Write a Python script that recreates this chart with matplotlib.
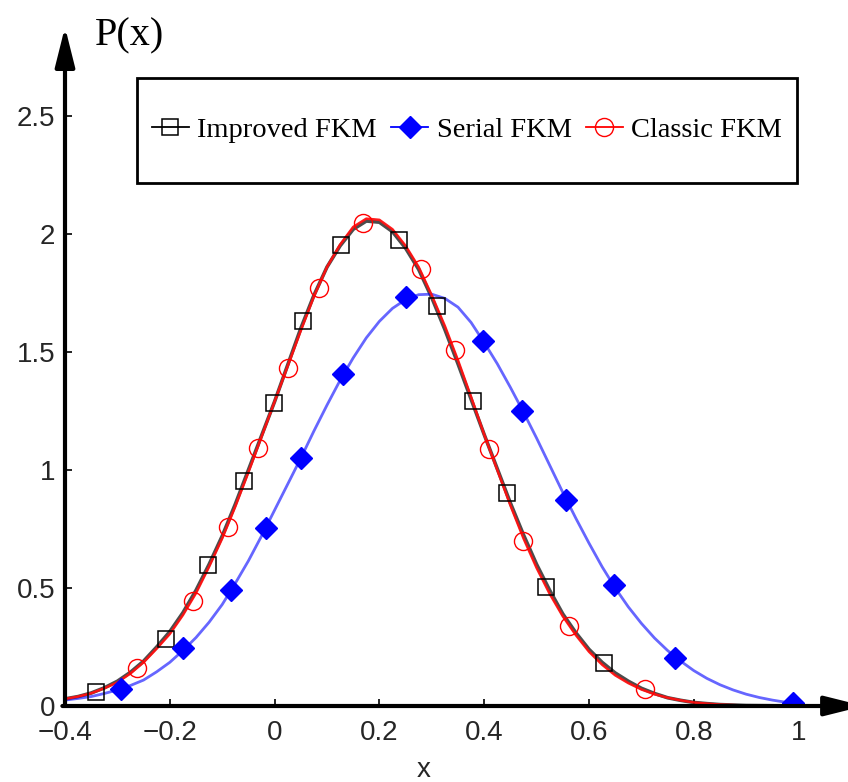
import numpy as np
import matplotlib
matplotlib.use('Agg')
import matplotlib.pyplot as plt
from matplotlib.lines import Line2D
from matplotlib.patches import Rectangle

# curves (every 0.025 in x)
curve_x = [-0.4, -0.375, -0.35, -0.325, -0.3, -0.275, -0.25, -0.225, -0.2, -0.175,
           -0.15, -0.125, -0.1, -0.075, -0.05, -0.025, 0.0, 0.025, 0.05, 0.075,
           0.1, 0.125, 0.15, 0.175, 0.2, 0.225, 0.25, 0.275, 0.3, 0.325,
           0.35, 0.375, 0.4, 0.425, 0.45, 0.475, 0.5, 0.525, 0.55, 0.575,
           0.6, 0.625, 0.65, 0.675, 0.7, 0.725, 0.75, 0.775, 0.8, 0.825,
           0.85, 0.875, 0.9, 0.95]
improved_y = [0.030, 0.040, 0.055, 0.077, 0.105, 0.143, 0.190, 0.250, 0.315, 0.395,
              0.490, 0.600, 0.720, 0.855, 1.000, 1.145, 1.290, 1.445, 1.600, 1.740,
              1.860, 1.950, 2.020, 2.055, 2.050, 2.010, 1.940, 1.850, 1.730, 1.595,
              1.450, 1.300, 1.150, 1.005, 0.860, 0.725, 0.600, 0.490, 0.390, 0.310,
              0.240, 0.185, 0.140, 0.105, 0.075, 0.053, 0.035, 0.024, 0.015, 0.010,
              0.006, 0.004, 0.002, 0.001]
classic_y = [0.030, 0.040, 0.054, 0.075, 0.100, 0.138, 0.185, 0.243, 0.305, 0.385,
             0.478, 0.590, 0.710, 0.845, 0.990, 1.140, 1.290, 1.440, 1.590, 1.735,
             1.860, 1.955, 2.030, 2.065, 2.060, 2.020, 1.950, 1.860, 1.740, 1.610,
             1.465, 1.310, 1.150, 1.000, 0.850, 0.710, 0.585, 0.475, 0.380, 0.300,
             0.230, 0.175, 0.130, 0.097, 0.070, 0.050, 0.035, 0.024, 0.015, 0.010,
             0.006, 0.004, 0.002, 0.001]

serial_x = [-0.4, -0.375, -0.35, -0.325, -0.3, -0.275, -0.25, -0.225, -0.2, -0.175,
            -0.15, -0.125, -0.1, -0.075, -0.05, -0.025, 0.0, 0.025, 0.05, 0.075,
            0.1, 0.125, 0.15, 0.175, 0.2, 0.225, 0.25, 0.275, 0.3, 0.325,
            0.35, 0.375, 0.4, 0.425, 0.45, 0.475, 0.5, 0.525, 0.55, 0.575,
            0.6, 0.625, 0.65, 0.675, 0.7, 0.725, 0.75, 0.775, 0.8, 0.825,
            0.85, 0.875, 0.9, 0.925, 0.95, 0.975, 1.0]
serial_y = [0.025, 0.032, 0.040, 0.053, 0.068, 0.087, 0.110, 0.145, 0.185, 0.235,
            0.290, 0.355, 0.430, 0.520, 0.615, 0.720, 0.830, 0.940, 1.050, 1.165,
            1.275, 1.380, 1.475, 1.560, 1.630, 1.685, 1.722, 1.743, 1.745, 1.727,
            1.690, 1.625, 1.540, 1.450, 1.350, 1.245, 1.135, 1.020, 0.905, 0.795,
            0.690, 0.590, 0.500, 0.420, 0.350, 0.288, 0.235, 0.190, 0.150, 0.117,
            0.090, 0.068, 0.050, 0.036, 0.025, 0.016, 0.010]

# markers
improved_mx = [-0.34, -0.208, -0.128, -0.059, -0.002, 0.054, 0.126, 0.237,
               0.310, 0.379, 0.444, 0.518, 0.629]
improved_my = [0.06, 0.284, 0.597, 0.953, 1.284, 1.631, 1.953, 1.975,
               1.695, 1.292, 0.903, 0.504, 0.182]
serial_mx = [-0.294, -0.174, -0.084, -0.017, 0.050, 0.130, 0.250, 0.397,
             0.473, 0.557, 0.647, 0.765, 0.989]
serial_my = [0.072, 0.246, 0.492, 0.754, 1.051, 1.407, 1.733, 1.547,
             1.25, 0.873, 0.513, 0.203, 0.013]
classic_mx = [-0.262, -0.155, -0.088, -0.031, 0.025, 0.084, 0.168, 0.279,
              0.344, 0.409, 0.474, 0.562, 0.707]
classic_my = [0.161, 0.445, 0.758, 1.093, 1.432, 1.771, 2.047, 1.852,
              1.508, 1.089, 0.699, 0.339, 0.072]

xticks = [-0.4, -0.2, 0, 0.2, 0.4, 0.6, 0.8, 1]
xticklabels = ['\u22120.4', '\u22120.2', '0', '0.2', '0.4', '0.6', '0.8', '1']
yticks = [0, 0.5, 1, 1.5, 2, 2.5]
yticklabels = ['0', '0.5', '1', '1.5', '2', '2.5']
labels = ['Improved FKM', 'Serial FKM', 'Classic FKM']

W, H = 848, 782
fig = plt.figure(figsize=(W / 100, H / 100), dpi=100)
ax = fig.add_axes([65 / W, (H - 706) / H, (W - 65) / W, (706 - 27) / H])

ax.plot(curve_x, improved_y, color='black', lw=2.6, alpha=0.7, zorder=2)
ax.plot(serial_x, serial_y, color='blue', lw=2.0, alpha=0.6, zorder=2)
ax.plot(curve_x, classic_y, color='#ff1010', lw=1.8, alpha=0.95, zorder=3)

ax.plot(improved_mx, improved_my, ls='none', marker='s', ms=11.5, mfc='none',
        mec='black', mew=1.1, zorder=4)
ax.plot(serial_mx, serial_my, ls='none', marker='D', ms=11, mfc='blue',
        mec='blue', mew=1, zorder=4)
ax.plot(classic_mx, classic_my, ls='none', marker='o', ms=13, mfc='none',
        mec='red', mew=1.0, zorder=4)

ax.set_xlim(-0.4, -0.4 + (W - 65) / 524)
ax.set_ylim(0, (706 - 27) / 236)
for s in ax.spines.values():
    s.set_visible(False)

# axes with arrows
arrow = dict(arrowstyle='-|>,head_length=1.2,head_width=0.3', lw=3,
             color='black', mutation_scale=20, shrinkA=0, shrinkB=0)
ax.annotate('', xy=(-0.4, (706 - 27) / 236), xytext=(-0.4, 0),
            arrowprops=arrow, annotation_clip=False, zorder=6)
ax.annotate('', xy=(1.125, 0), xytext=(-0.405, 0),
            arrowprops=arrow, annotation_clip=False, zorder=6)

ax.set_xticks(xticks)
ax.set_xticklabels(xticklabels)
ax.set_yticks(yticks)
ax.set_yticklabels(yticklabels)
ax.tick_params(direction='in', length=5, width=1.2, color='black',
               labelsize=20, labelcolor='#262626')
ax.tick_params(axis='x', pad=10)
ax.tick_params(axis='y', pad=7)
for t in ax.get_xticklabels() + ax.get_yticklabels():
    t.set_fontfamily('Liberation Sans')

fig.text(424 / W, 1 - 770 / H, 'x', fontsize=20, family='Liberation Sans',
         color='#262626', ha='center', va='center')
fig.text(130 / W, 1 - 36 / H, 'P(x)', fontsize=29, family='Liberation Serif',
         ha='center', va='center')

# legend box
fig.patches.append(Rectangle((137 / W, 1 - 183 / H), 660 / W, 105 / H,
                             transform=fig.transFigure, fc='white', ec='black',
                             lw=2, zorder=1))
handles = [
    Line2D([], [], color='black', lw=1.3, marker='s', ms=11.5, mfc='none', mew=1.1),
    Line2D([], [], color='blue', lw=1.3, marker='D', ms=11, mfc='blue'),
    Line2D([], [], color='red', lw=1.3, marker='o', ms=13, mfc='none', mew=1.0),
]
fig.legend(handles, labels, loc='center', ncol=3, frameon=False,
           bbox_to_anchor=(467 / W, 1 - 130 / H), handlelength=1.3,
           handletextpad=0.3, columnspacing=0.5,
           prop={'family': 'Liberation Serif', 'size': 20.5})

fig.savefig('out.png', dpi=100)
